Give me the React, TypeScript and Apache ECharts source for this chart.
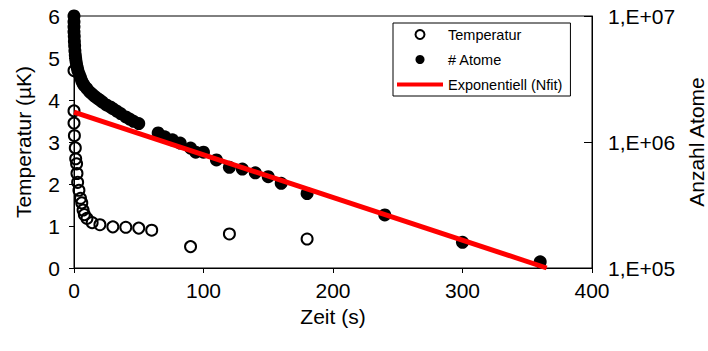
import React, { useEffect, useRef } from "react";
import * as echarts from "echarts";

const tempTimes = [0, 0, 0, 0.3, 1, 1.3, 2, 2.3, 2.8, 3.8, 5, 6, 7, 8, 10, 14, 20, 30, 40, 50, 60, 90, 120, 180];
const tempValues = [4.7, 3.74, 3.45, 3.15, 2.86, 2.6, 2.48, 2.25, 2.04, 1.85, 1.66, 1.55, 1.38, 1.27, 1.18, 1.08, 1.03, 0.98, 0.97, 0.95, 0.9, 0.51, 0.81, 0.69];

const atomTimes = [0, 0, 0, 0, 0.2, 0.3, 0.5, 0.7, 1, 1.3, 1.6, 2, 2.5, 3, 4, 5, 6, 7, 8, 10, 12, 14, 16, 18, 20, 22, 25, 28, 30, 33, 36, 40, 43, 46, 50, 65, 70, 76, 82, 90, 94, 100, 110, 120, 130, 140, 150, 160, 180, 240, 300, 360];
const atomValues = [1e7, 9e6, 8.2e6, 7.5e6, 6.9e6, 6.3e6, 5.8e6, 5.3e6, 4.9e6, 4.6e6, 4.35e6, 4.1e6, 3.9e6, 3.7e6, 3.45e6, 3.25e6, 3.05e6, 2.9e6, 2.8e6, 2.65e6, 2.5e6, 2.4e6, 2.3e6, 2.22e6, 2.15e6, 2.07e6, 1.97e6, 1.9e6, 1.84e6, 1.76e6, 1.68e6, 1.58e6, 1.52e6, 1.46e6, 1.4e6, 1.18e6, 1.1e6, 1.04e6, 9.8e5, 8.96e5, 8.3e5, 8.3e5, 7.2e5, 6.3e5, 6.1e5, 5.7e5, 5.3e5, 4.7e5, 3.9e5, 2.64e5, 1.6e5, 1.12e5];

const fitTimes = [0, 365];
const fitValues = [1.73e6, 1e5];

const xTicks = { min: 0, max: 400, interval: 100 };
const leftTicks = { min: 0, max: 6, interval: 1 };
const rightTicks = { min: 1e5, max: 1e7 };

const seriesNames = ["Temperatur", "# Atome", "Exponentiell (Nfit)"];

const FONT = "'Liberation Sans', Arial, sans-serif";

export default function App() {
  const ref = useRef<HTMLDivElement>(null);
  useEffect(() => {
    document.body.style.margin = "0";
    const chart = echarts.init(ref.current!, null, { renderer: "svg" });
    const axisCommon = {
      axisLine: { show: true, onZero: false, lineStyle: { color: "#000", width: 1 } },
      axisTick: { show: true, length: 5, lineStyle: { color: "#000" } },
      axisLabel: { fontSize: 21, color: "#000", fontFamily: FONT },
      splitLine: { show: false },
      nameTextStyle: { fontSize: 21, color: "#000", fontFamily: FONT },
    };
    chart.setOption({
      animation: false,
      backgroundColor: "#fff",
      textStyle: { fontFamily: FONT },
      grid: {
        left: 74, right: 116, top: 16, bottom: 83,
        outerBoundsMode: "none", containLabel: false,
        show: true, borderColor: "#000", borderWidth: 1, backgroundColor: "transparent",
      },
      legend: {
        orient: "vertical",
        left: 393,
        top: 23,
        padding: [4, 8, 4, 4],
        itemGap: 10,
        itemWidth: 46,
        itemHeight: 9,
        borderColor: "#000",
        borderWidth: 1,
        borderRadius: 0,
        backgroundColor: "#fff",
        textStyle: { fontSize: 14.5, color: "#000", fontFamily: FONT },
        data: [
          { name: seriesNames[0] },
          { name: seriesNames[1] },
          { name: seriesNames[2], icon: "path://M0,0L46,0L46,4L0,4Z" },
        ],
      },
      xAxis: {
        type: "value",
        ...xTicks,
        name: "Zeit (s)",
        nameLocation: "middle",
        nameGap: 31,
        ...axisCommon,
        axisLabel: { ...axisCommon.axisLabel, margin: 12 },
      },
      yAxis: [
        {
          type: "value",
          ...leftTicks,
          position: "left",
          name: "Temperatur (µK)",
          nameLocation: "middle",
          nameGap: 40,
          nameRotate: 90,
          ...axisCommon,
          axisLabel: { ...axisCommon.axisLabel, margin: 14 },
        },
        {
          type: "log",
          logBase: 10,
          ...rightTicks,
          position: "right",
          name: "Anzahl Atome",
          nameLocation: "middle",
          nameGap: 92,
          nameRotate: 90,
          ...axisCommon,
          axisTick: { show: true, inside: true, length: 8, lineStyle: { color: "#000" } },
          minorTick: { show: false },
          axisLabel: {
            ...axisCommon.axisLabel,
            margin: 16,
            formatter: (v: number) => "1,E+" + String(Math.round(Math.log10(v))).padStart(2, "0"),
          },
        },
      ],
      series: [
        {
          name: seriesNames[0],
          type: "scatter",
          yAxisIndex: 0,
          symbol: "circle",
          symbolSize: 11,
          itemStyle: { color: "rgba(255,255,255,0)", borderColor: "#000", borderWidth: 2, opacity: 1 },
          data: tempTimes.map((t, i) => [t, tempValues[i]]),
          z: 2,
        },
        {
          name: seriesNames[1],
          type: "scatter",
          yAxisIndex: 1,
          symbol: "circle",
          symbolSize: 13,
          itemStyle: { color: "#000", opacity: 1 },
          data: atomTimes.map((t, i) => [t, atomValues[i]]),
          z: 3,
        },
        {
          name: seriesNames[2],
          type: "line",
          yAxisIndex: 1,
          symbol: "none",
          showSymbol: false,
          lineStyle: { color: "#ff0000", width: 5 },
          itemStyle: { color: "#ff0000" },
          data: fitTimes.map((t, i) => [t, fitValues[i]]),
          z: 4,
        },
      ],
    });
    return () => chart.dispose();
  }, []);
  return <div ref={ref} style={{ width: 708, height: 351 }} />;
}
